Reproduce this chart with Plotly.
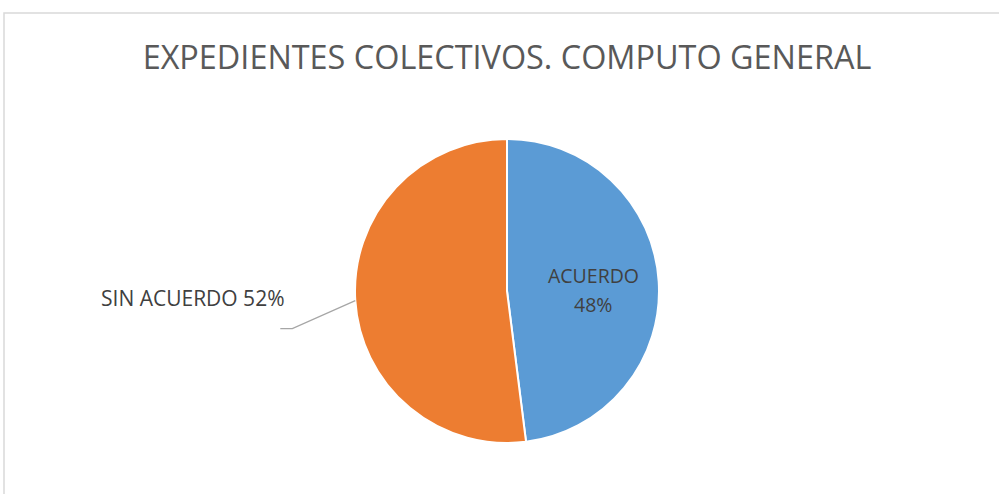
import math
import plotly.graph_objects as go

title_text = "EXPEDIENTES COLECTIVOS. COMPUTO GENERAL"
labels = ["ACUERDO", "SIN ACUERDO"]
values = [48, 52]
colors = ["#5B9BD5", "#ED7D31"]

W, H = 999, 494
cx, cy, r = 507, 291, 152  # pie centre / radius in px
label_font = dict(family="Open Sans", color="#404040")

fig = go.Figure()
fig.add_trace(go.Pie(
    labels=labels, values=values, sort=False, direction="clockwise", rotation=0,
    marker=dict(colors=colors, line=dict(color="white", width=2)),
    textinfo="none", hole=0, showlegend=False,
    domain=dict(x=[(cx - r) / W, (cx + r) / W], y=[1 - (cy + r) / H, 1 - (cy - r) / H]),
))

total = sum(values)
pcts = [round(v / total * 100) for v in values]

# inside label for first slice, placed along its mid angle
mid0 = (values[0] / 2) / total * 2 * math.pi
tx = cx + 0.57 * r * math.sin(mid0)
ty = cy - 0.57 * r * math.cos(mid0) + 4
for txt, dy in [(labels[0], -14.5), (f"{pcts[0]}%", 14.5)]:
    fig.add_annotation(xref="paper", yref="paper", x=tx / W, y=1 - (ty + dy) / H,
                       xanchor="center", yanchor="middle", showarrow=False, text=txt,
                       font=dict(size=19.5, **label_font))

# outside label + leader line for the second slice
mid1 = (values[0] + values[1] / 2) / total * 2 * math.pi
ex = cx + r * math.sin(mid1)
ey = cy - r * math.cos(mid1)
bx, by = ex - 63, ey + 28
hx = bx - 12
fig.add_shape(type="path", xref="paper", yref="paper",
              path=f"M {ex/W} {1-ey/H} L {bx/W} {1-by/H} L {hx/W} {1-by/H}",
              line=dict(color="#A6A6A6", width=1.3))
fig.add_annotation(xref="paper", yref="paper", x=(bx - 5) / W, y=1 - (by - 31) / H,
                   xanchor="right", yanchor="middle", showarrow=False,
                   text=f"{labels[1]} {pcts[1]}%",
                   font=dict(size=21, **label_font))

# chart border
fig.add_shape(type="rect", xref="paper", yref="paper",
              x0=4 / W, x1=1.01, y0=-0.01, y1=1 - 13 / H,
              line=dict(color="#D9D9D9", width=1.5))

fig.update_layout(
    width=W, height=H, margin=dict(l=0, r=0, t=0, b=0),
    paper_bgcolor="white", plot_bgcolor="white",
    title=dict(text=title_text, x=507 / W, xanchor="center", y=1 - 58 / H, yanchor="middle",
               font=dict(family="Open Sans", size=32.4, color="#595959")),
)
fig.write_html("out.html", config={"displayModeBar": False},
               post_script="document.body.style.margin='0';")
